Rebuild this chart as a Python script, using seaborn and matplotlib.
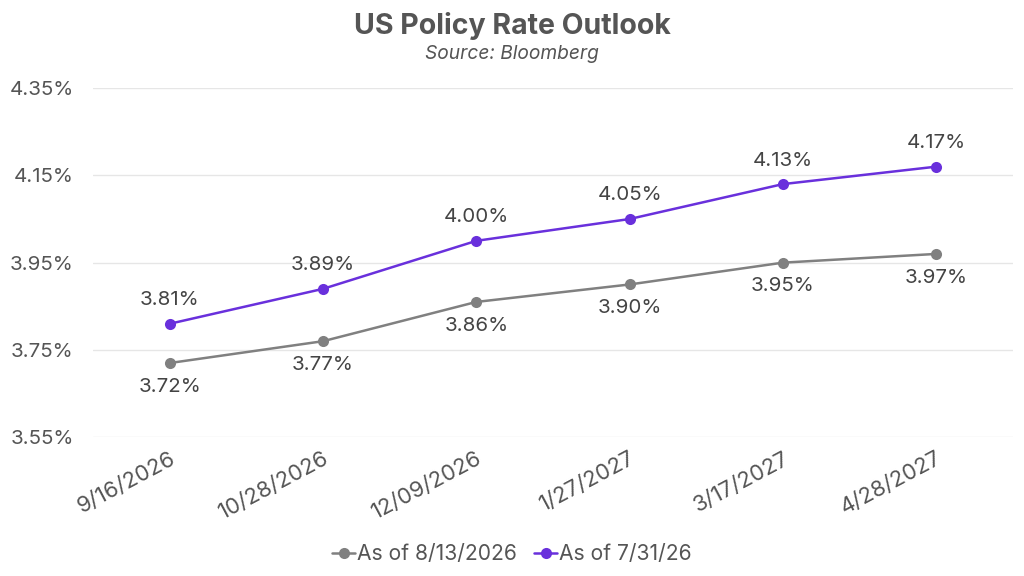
import pandas as pd
import seaborn as sns
import matplotlib.pyplot as plt
from matplotlib.ticker import FuncFormatter

dates = ["9/16/2026", "10/28/2026", "12/09/2026", "1/27/2027", "3/17/2027", "4/28/2027"]
as_of_0813 = [3.72, 3.77, 3.86, 3.90, 3.95, 3.97]
as_of_0731 = [3.81, 3.89, 4.00, 4.05, 4.13, 4.17]
series_names = ["As of 8/13/2026", "As of 7/31/26"]
colors = ["#808080", "#6930DC"]

df = pd.concat([
    pd.DataFrame({"date": dates, "rate": as_of_0813, "series": series_names[0]}),
    pd.DataFrame({"date": dates, "rate": as_of_0731, "series": series_names[1]}),
])

sns.set_theme(style="white")
plt.rcParams["font.family"] = ["Inter", "DejaVu Sans"]
text_color = "#555555"

fig = plt.figure(figsize=(10.24, 5.76), dpi=100)
ax = fig.add_axes([0.091, 0.241, 0.898, 0.606])

sns.lineplot(data=df, x="date", y="rate", hue="series", palette=colors,
             marker="o", markersize=8, markeredgewidth=0, linewidth=1.8,
             sort=False, ax=ax)

# data labels
for i, (lo, hi) in enumerate(zip(as_of_0813, as_of_0731)):
    ax.annotate(f"{lo:.2f}%", (i, lo), xytext=(0, -17), textcoords="offset points",
                ha="center", va="center", fontsize=14.8, color="#444444")
    ax.annotate(f"{hi:.2f}%", (i, hi), xytext=(0, 17), textcoords="offset points",
                ha="center", va="center", fontsize=14.8, color="#444444")

ax.set_xlim(-0.5, len(dates) - 0.5)
ax.set_ylim(3.55, 4.35)
ax.set_yticks([3.55, 3.75, 3.95, 4.15, 4.35])
ax.yaxis.set_major_formatter(FuncFormatter(lambda v, p: f"{v:.2f}%"))
ax.grid(axis="y", color="#e6e6e6", linewidth=1)
ax.set_axisbelow(True)
for s in ax.spines.values():
    s.set_visible(False)
ax.set_xlabel("")
ax.set_ylabel("")
ax.tick_params(axis="y", labelsize=14.8, labelcolor=text_color, length=0, pad=14)
ax.tick_params(axis="x", labelsize=16, labelcolor=text_color, length=0, pad=8)
for lbl in ax.get_xticklabels():
    lbl.set_rotation(28)
    lbl.set_ha("right")
    lbl.set_rotation_mode("anchor")

sns.move_legend(ax, "lower center", bbox_to_anchor=(0.5, -0.012), bbox_transform=fig.transFigure,
                ncol=2, frameon=False, title=None, fontsize=15.2,
                handlelength=1.1, handletextpad=0.1, columnspacing=0.8)
for t in ax.get_legend().get_texts():
    t.set_color(text_color)

fig.text(0.5, 0.955, "US Policy Rate Outlook", ha="center", va="center",
         fontsize=20.5, fontweight="bold", color=text_color)
fig.text(0.5, 0.907, "Source: Bloomberg", ha="center", va="center",
         fontsize=13.8, style="italic", color=text_color)

fig.savefig("out.png", dpi=100)
